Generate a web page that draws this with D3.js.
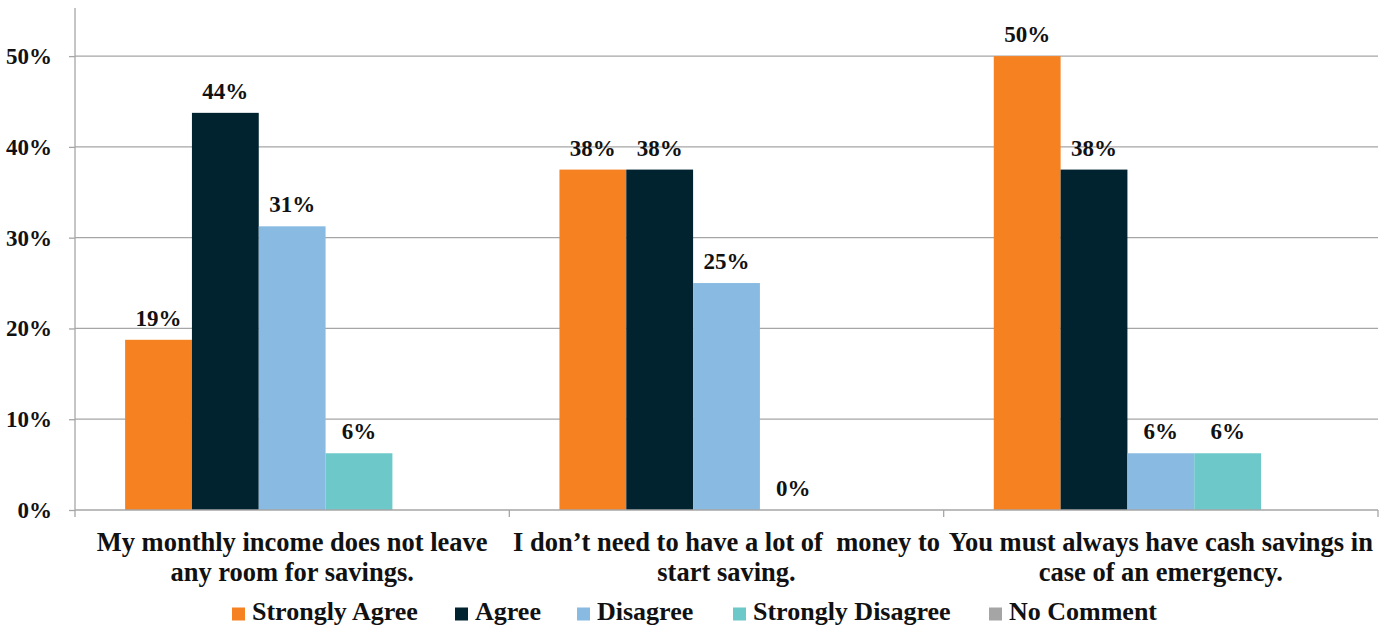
<!DOCTYPE html>
<html>
<head>
<meta charset="utf-8">
<script src="https://cdn.jsdelivr.net/npm/d3@7"></script>
<style>
  html, body { margin: 0; padding: 0; background: #fff; }
  svg text { font-family: "Liberation Serif", "DejaVu Serif", serif; font-weight: bold; fill: #111; }
</style>
</head>
<body>
<svg id="chart" width="1387" height="630"></svg>
<script>
// Survey statements (two lines each, as wrapped under the axis)
const categories = [
  ["My monthly income does not leave", "any room for savings."],
  ["I don\u2019t need to have a lot of  money to", "start saving."],
  ["You must always have cash savings in", "case of an emergency."]
];
const seriesNames = ["Strongly Agree", "Agree", "Disagree", "Strongly Disagree", "No Comment"];
const seriesColors = ["#F68121", "#01232F", "#88BAE2", "#6CC8C9", "#A5A5A5"];

// Share of respondents per series, one value per statement (null = no response recorded)
const stronglyAgree    = [0.1875, 0.375, 0.50];
const agree            = [0.4375, 0.375, 0.375];
const disagree         = [0.3125, 0.25, 0.0625];
const stronglyDisagree = [0.0625, 0.00, 0.0625];
const noComment        = [null, null, null];

const yTicks = [0, 0.1, 0.2, 0.3, 0.4, 0.5];

const seriesValues = [stronglyAgree, agree, disagree, stronglyDisagree, noComment];

const svg = d3.select("#chart");
const plot = { left: 75, right: 1378, top: 8, bottom: 510 };

const y = d3.scaleLinear().domain([0, 0.553]).range([plot.bottom, plot.top]);
const x0 = d3.scaleBand().domain(d3.range(categories.length)).range([plot.left, plot.right]);
// bars fill the band with a 150% gap split over both sides
const gap = x0.bandwidth() * 0.75 / 6.5;
const x1 = d3.scaleBand().domain(d3.range(seriesNames.length)).range([gap, x0.bandwidth() - gap]);

const pct = d3.format(".0%");
const axisColor = "#A6A6A6";

// gridlines
svg.append("g").selectAll("line").data(yTicks.filter(d => d > 0)).join("line")
  .attr("x1", plot.left).attr("x2", plot.right)
  .attr("y1", d => y(d)).attr("y2", d => y(d))
  .attr("stroke", axisColor).attr("stroke-width", 1.3);

// bars with value labels
const groups = svg.append("g").selectAll("g").data(categories).join("g")
  .attr("transform", (d, i) => `translate(${x0(i)},0)`);

groups.each(function(_, ci) {
  const g = d3.select(this);
  seriesValues.forEach((vals, si) => {
    const v = vals[ci];
    if (v === null) return;
    g.append("rect")
      .attr("x", x1(si)).attr("width", x1.bandwidth())
      .attr("y", y(v)).attr("height", y(0) - y(v))
      .attr("fill", seriesColors[si]);
    g.append("text")
      .attr("x", x1(si) + x1.bandwidth() / 2)
      .attr("y", y(v) - 14)
      .attr("text-anchor", "middle")
      .attr("font-size", 23)
      .text(pct(v));
  });
});

// y axis
const yAxis = d3.axisLeft(y).tickValues(yTicks).tickFormat(pct).tickSize(6).tickPadding(17);
const yg = svg.append("g").attr("transform", `translate(${plot.left},0)`).call(yAxis);
yg.select(".domain").attr("stroke", axisColor).attr("stroke-width", 1.3).attr("d", `M0,${plot.top}V${plot.bottom}`);
yg.selectAll(".tick line").attr("stroke", axisColor).attr("stroke-width", 1.3);
yg.selectAll(".tick text").attr("font-size", 23).attr("font-family", null).attr("fill", null);

// x axis
const xg = svg.append("g").attr("transform", `translate(0,${plot.bottom})`);
xg.append("line").attr("x1", plot.left).attr("x2", plot.right).attr("stroke", axisColor).attr("stroke-width", 1.3);
xg.selectAll("line.tick").data(d3.range(categories.length + 1)).join("line")
  .attr("class", "tick")
  .attr("x1", i => i < categories.length ? x0(i) : plot.right)
  .attr("x2", i => i < categories.length ? x0(i) : plot.right)
  .attr("y1", 0).attr("y2", 7)
  .attr("stroke", axisColor).attr("stroke-width", 1.3);

const catText = xg.selectAll("text.cat").data(categories).join("text")
  .attr("class", "cat")
  .attr("text-anchor", "middle")
  .attr("font-size", 26.5)
  .style("white-space", "pre");
catText.each(function(lines, i) {
  const t = d3.select(this);
  lines.forEach((ln, k) => {
    t.append("tspan")
      .attr("x", x0(i) + x0.bandwidth() / 2)
      .attr("y", 41 + k * 30)
      .text(ln);
  });
});

// legend
const legendX = [232, 455, 577, 733, 989];
const legend = svg.append("g").selectAll("g").data(seriesNames).join("g")
  .attr("transform", (d, i) => `translate(${legendX[i]},620)`);
legend.append("rect").attr("x", 0).attr("y", -12.5).attr("width", 13).attr("height", 13)
  .attr("fill", (d, i) => seriesColors[i]);
legend.append("text").attr("x", 20).attr("y", 0)
  .attr("font-size", 26).text(d => d);
</script>
</body>
</html>
